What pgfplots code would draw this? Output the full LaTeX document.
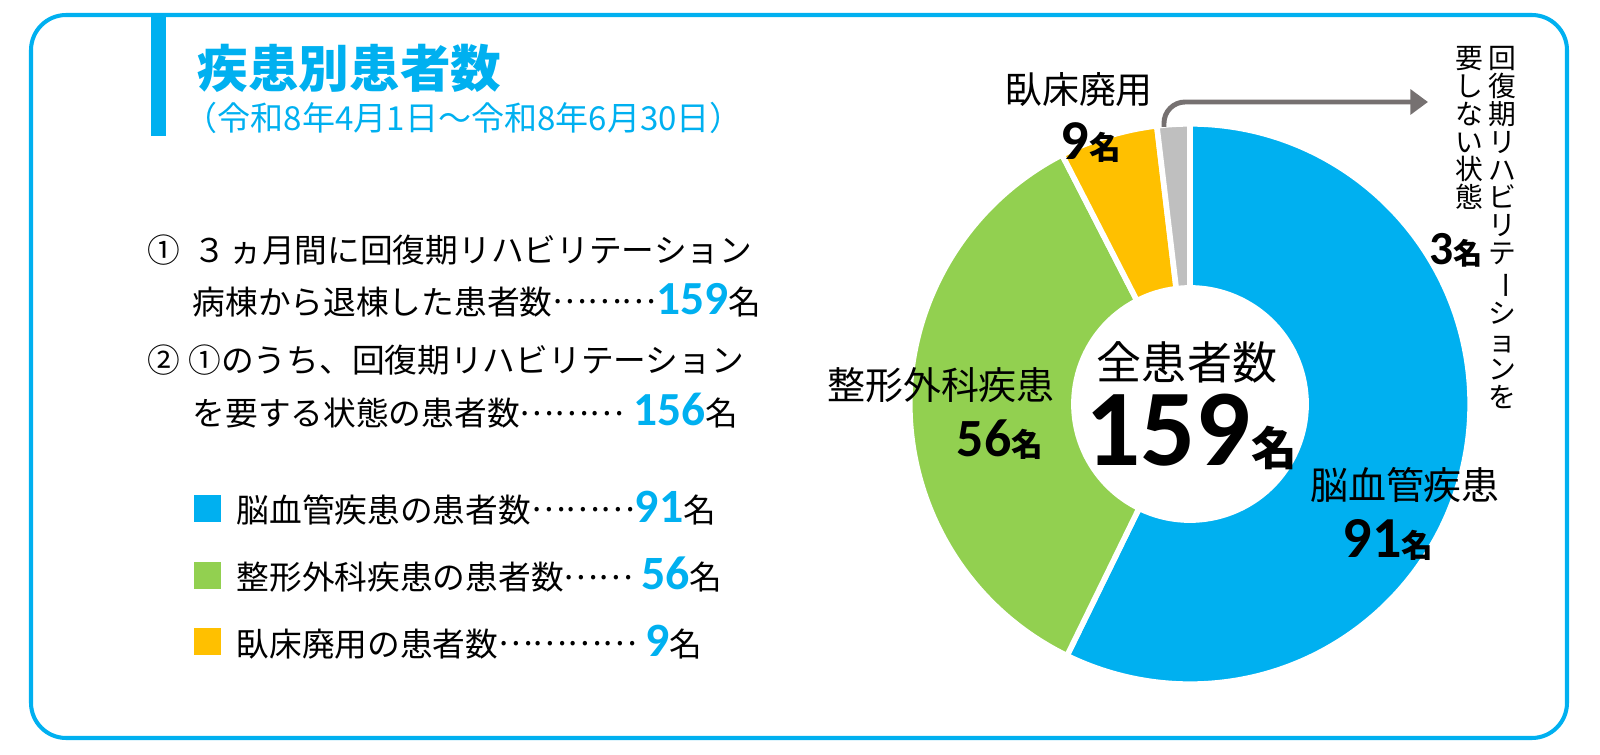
\documentclass[border=0pt]{standalone}
\usepackage{fontspec}
\setmainfont{Noto Sans CJK JP}
\newfontfamily\num{Carlito}
\usepackage{pgfplots}
\pgfplotsset{compat=1.18}
\usepackage{pgfplotstable}
\usetikzlibrary{calc,arrows.meta}
\definecolor{cblue}{HTML}{00B0F0}
\definecolor{cgreen}{HTML}{92D050}
\definecolor{cyellow}{HTML}{FFC000}
\definecolor{cgrey}{HTML}{BFBFBF}
\definecolor{carrow}{HTML}{767171}
\pgfplotstableread{
idx value
0 91
1 56
2 9
3 3
}\donutdata
\newcommand\fs[1]{\fontsize{#1}{#1}\selectfont}
\newcommand\bnum[2]{{\num\bfseries\fs{#1}#2}}
\newcommand\ld[1]{\raisebox{0.33em}{#1}}
\begin{document}
\begin{tikzpicture}
\pgfplotstablegetelem{0}{value}\of\donutdata \edef\va{\pgfplotsretval}
\pgfplotstablegetelem{1}{value}\of\donutdata \edef\vb{\pgfplotsretval}
\pgfplotstablegetelem{2}{value}\of\donutdata \edef\vc{\pgfplotsretval}
\pgfplotstablegetelem{3}{value}\of\donutdata \edef\vd{\pgfplotsretval}
\pgfmathsetmacro\tot{\va+\vb+\vc+\vd}
\pgfmathsetmacro\aA{90}
\pgfmathsetmacro\aB{\aA-360*(\va/\tot)}
\pgfmathsetmacro\aC{\aB-360*(\vb/\tot)}
\pgfmathsetmacro\aD{\aC-360*(\vc/\tot)}
\pgfmathsetmacro\aE{\aD-360*(\vd/\tot)}
\def\Ro{2.80cm}
\def\Ri{1.16cm}
\begin{axis}[x=0.01cm,y=0.01cm,xmin=0,xmax=1600,ymin=0,ymax=755,y dir=reverse,
  hide axis,clip=false,enlargelimits=false]
\path (axis cs:0,0) rectangle (axis cs:1600,755);
% frame
\draw[cblue, line width=1.15pt, rounded corners=10pt] (axis cs:31,15) rectangle (axis cs:1567,738);
\fill[cblue] (axis cs:151,15) rectangle (axis cs:166,136);
% title
\node[anchor=west, inner sep=0pt, text=cblue, font=\bfseries\fs{14.4}] at (axis cs:197,68) {疾患別患者数};
\node[anchor=west, inner sep=0pt, text=cblue, font=\fs{9.4}] at (axis cs:184,118) {（令和8年4月1日～令和8年6月30日）};
% items
\node[anchor=west, inner sep=0pt, font=\fs{9.3}] at (axis cs:147,250) {①\hspace{0.4em}３\hspace{0.1em}ヵ月間に回復期リハビリテーション};
\node[anchor=west, inner sep=0pt, font=\fs{9.3}] at (axis cs:192,300) {病棟から退棟した患者数\ld{………}{\color{cblue}\bnum{13.5}{159}}名};
\node[anchor=west, inner sep=0pt, font=\fs{9.3}] at (axis cs:147,360) {②\hspace{0.25em}①のうち、回復期リハビリテーション};
\node[anchor=west, inner sep=0pt, font=\fs{9.3}] at (axis cs:192,411) {を要する状態の患者数\ld{………}\hspace{0.3em}{\color{cblue}\bnum{13.5}{156}}名};
% legend
\fill[cblue] (axis cs:194,495) rectangle (axis cs:221,522);
\fill[cgreen] (axis cs:194,562) rectangle (axis cs:221,589);
\fill[cyellow] (axis cs:194,628) rectangle (axis cs:221,655);
\node[anchor=west, inner sep=0pt, font=\fs{9.3}] at (axis cs:236,508) {脳血管疾患の患者数\ld{………}{\color{cblue}\bnum{13.6}{91}}名};
\node[anchor=west, inner sep=0pt, font=\fs{9.3}] at (axis cs:236,575) {整形外科疾患の患者数\ld{……}\hspace{0.25em}{\color{cblue}\bnum{13.6}{56}}名};
\node[anchor=west, inner sep=0pt, font=\fs{9.3}] at (axis cs:236,642) {臥床廃用の患者数\ld{…………}\hspace{0.25em}{\color{cblue}\bnum{13.6}{9}}名};
% donut
\coordinate (C) at (axis cs:1190,404);
\fill[cblue, draw=white, line width=1.6pt] ($(C)+(\aA:\Ro)$) arc[start angle=\aA, end angle=\aB, radius=\Ro] -- ($(C)+(\aB:\Ri)$) arc[start angle=\aB, end angle=\aA, radius=\Ri] -- cycle;
\fill[cgreen, draw=white, line width=1.6pt] ($(C)+(\aB:\Ro)$) arc[start angle=\aB, end angle=\aC, radius=\Ro] -- ($(C)+(\aC:\Ri)$) arc[start angle=\aC, end angle=\aB, radius=\Ri] -- cycle;
\fill[cyellow, draw=white, line width=1.6pt] ($(C)+(\aC:\Ro)$) arc[start angle=\aC, end angle=\aD, radius=\Ro] -- ($(C)+(\aD:\Ri)$) arc[start angle=\aD, end angle=\aC, radius=\Ri] -- cycle;
\fill[cgrey, draw=white, line width=1.6pt] ($(C)+(\aD:\Ro)$) arc[start angle=\aD, end angle=\aE, radius=\Ro] -- ($(C)+(\aE:\Ri)$) arc[start angle=\aE, end angle=\aD, radius=\Ri] -- cycle;
% arrow
\draw[carrow, line width=1.4pt, rounded corners=6pt, -{Triangle[length=5pt,width=7pt]}] (axis cs:1164,127) -- (axis cs:1164,102) -- (axis cs:1428,102);
% donut labels
\node[font=\fs{10.5}] at (axis cs:1079,90) {臥床廃用};
\node[font=\bfseries] at (axis cs:1091,143) {\bnum{16}{9}{\fs{9}名}};
\node[font=\fs{10.8}] at (axis cs:941,385) {整形外科疾患};
\node[font=\bfseries] at (axis cs:1000,440) {\bnum{15.3}{56}{\fs{9}名}};
\node[font=\fs{12.8}] at (axis cs:1187,362) {全患者数};
\node[font=\bfseries] at (axis cs:1191,432) {\bnum{31}{159}{\fs{13}名}};
\node[font=\fs{10.8}] at (axis cs:1405,485) {脳血管疾患};
\node[font=\bfseries] at (axis cs:1388,540) {\bnum{16.5}{91}{\fs{9}名}};
\node[font=\bfseries] at (axis cs:1456,250) {\bnum{13.5}{3}{\fs{8.3}名}};
% vertical text
\node[anchor=north, align=center, font=\fs{7.9}, inner sep=0pt] at (axis cs:1502,46) {回\\復\\期\\リ\\ハ\\ビ\\リ\\テ\\\rotatebox[origin=c]{-90}{ー}\\シ\\ョ\\ン\\を};
\node[anchor=north, align=center, font=\fs{7.9}, inner sep=0pt] at (axis cs:1469,46) {要\\し\\な\\い\\状\\態};
\end{axis}
\end{tikzpicture}
\end{document}
